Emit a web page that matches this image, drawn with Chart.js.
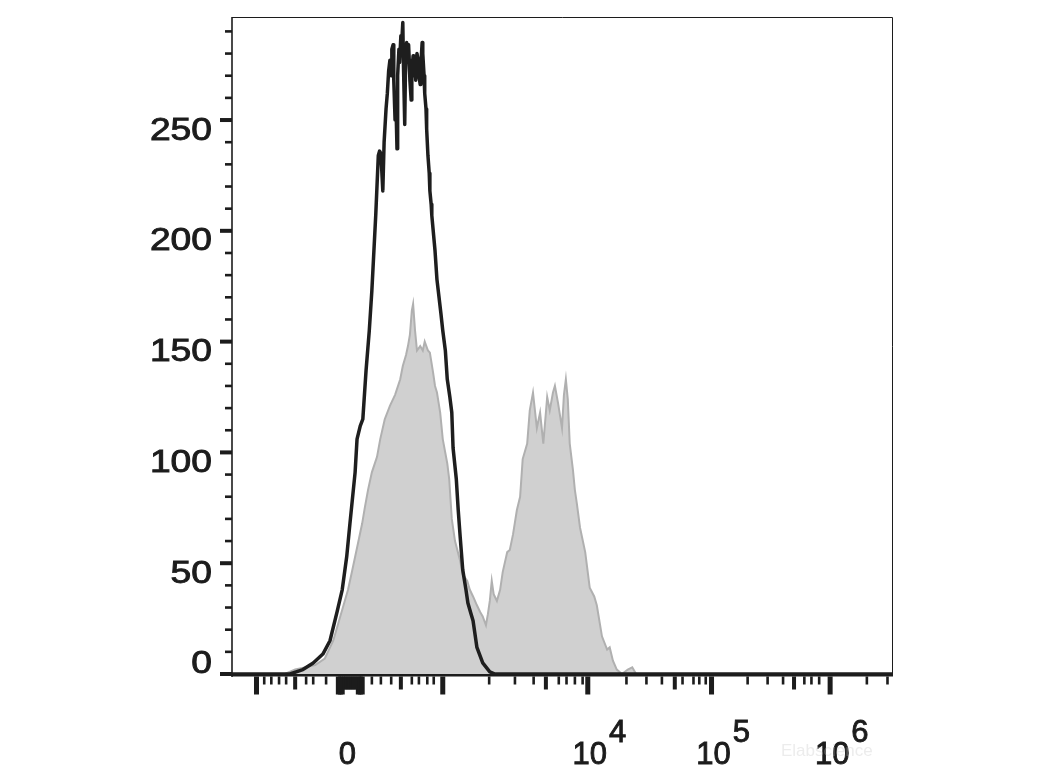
<!DOCTYPE html>
<html>
<head>
<meta charset="utf-8">
<script src="https://cdn.jsdelivr.net/npm/chart.js"></script>
<style>
  html, body { margin: 0; padding: 0; background: #fff; }
  canvas { display: block; }
</style>
</head>
<body>
<canvas id="histo" width="1040" height="780"></canvas>
<script>
// x = display channel on the biexponential axis (0..1024), y = event count
const blackChannels = [0, 90, 110, 126, 141, 152, 163, 171, 178, 183, 191, 194, 199, 203, 208, 213, 217, 223,
  227, 229, 231, 234, 236, 239, 241, 243, 245, 247, 248, 250, 251, 253, 254, 256, 257, 259, 260, 262, 263, 265,
  266, 268, 269, 271, 272, 274, 275, 276, 278, 279, 281, 282, 284, 285, 287, 289, 290, 292, 293, 295,
  296, 298, 299, 301, 302, 304, 306, 307, 309, 310, 315, 318, 322, 324, 327, 331, 334, 338, 341, 343,
  348, 351, 354, 358, 363, 366, 370, 374, 380, 389, 400, 408, 1024];
const blackCounts = [0, 0, 2, 5, 9, 15, 28, 38, 53, 68, 91, 106, 112, 115, 137, 155, 173, 207,
  234, 236, 235, 218, 240, 255, 262, 272, 277, 270, 282, 284, 268, 250, 262, 237, 270, 282, 276, 288, 283, 294,
  275, 248, 270, 285, 280, 284, 277, 268, 259, 272, 279, 270, 276, 268, 280, 277, 270, 266, 275, 285,
  280, 270, 262, 255, 246, 234, 226, 218, 212, 207, 191, 178, 168, 163, 155, 146, 133, 125, 118, 102,
  88, 74, 62, 47, 38, 32, 28, 24, 12, 5, 1, 0, 0];

const grayChannels = [0, 82, 98, 113, 129, 144, 157, 164, 172, 180, 186, 194, 202, 206, 211, 217, 225, 230, 237, 245,
  253, 261, 265, 270, 273, 276, 279, 281, 284, 287, 292, 296, 299, 304, 307, 312, 315, 318, 323, 327,
  334, 337, 341, 346, 354, 358, 365, 369, 374, 380, 385, 389, 394, 397, 400, 403, 406, 411, 416, 420,
  427, 431, 436, 442, 447, 451, 458, 462, 467, 473, 478, 483, 489, 493, 498, 501, 506, 512, 515, 518,
  521, 524, 529, 532, 535, 540, 548, 555, 562, 566, 574, 582, 586, 591, 597, 605, 614, 621, 627, 1024];
const grayCounts = [0, 0, 2, 3, 4, 7, 15, 22, 30, 38, 46, 57, 68, 75, 83, 91, 98, 106, 115, 121,
  126, 133, 139, 144, 148, 153, 164, 167, 155, 146, 148, 146, 150, 146, 145, 136, 130, 127, 118, 106,
  95, 88, 70, 60, 51, 45, 42, 38, 35, 31, 28, 26, 22, 27, 33, 42, 36, 33, 38, 46,
  55, 56, 63, 74, 80, 97, 104, 119, 127, 111, 118, 104, 125, 119, 127, 130, 122, 111, 126, 133,
  124, 104, 92, 83, 77, 66, 55, 39, 35, 31, 17, 11, 12, 6, 2, 0, 2, 3, 0, 0];

// y axis ticks
const yLabelTicks = [0, 50, 100, 150, 200, 250];
const yMinorTicks = [10, 20, 30, 40, 60, 70, 80, 90, 110, 120, 130, 140, 160, 170, 180, 190,
  210, 220, 230, 240, 260, 270, 280, 290];

// x axis ticks (in channels)
const xMajorTicks = [38, 165, 168, 171, 196, 199, 202, 327, 552, 744, 928];
const xMidTicks = [98, 174, 177, 180, 183, 186, 189, 192, 262, 487, 687, 872];
const xMinorTicks = [50, 61, 73, 84, 115, 126, 146, 217, 231, 247, 279, 290, 303, 313,
  399, 439, 468, 507, 519, 532, 544, 612, 643, 667, 699, 716, 725, 735,
  800, 831, 855, 888, 899, 911, 985, 1017];
const xLabelChannels = [179, 552, 744, 928];
const xLabelBase = ['0', '10', '10', '10'];
const xLabelExp = ['', '4', '5', '6'];

function heavyText(ctx, s, x, y) {
  ctx.fillText(s, x, y);
  ctx.strokeText(s, x, y);
}

const axisPlugin = {
  id: 'flowAxes',
  afterDraw(chart) {
    const ctx = chart.ctx;
    const xs = chart.scales.x, ys = chart.scales.y;
    const a = chart.chartArea;
    ctx.save();
    ctx.fillStyle = '#1c1c1c';
    ctx.strokeStyle = '#1c1c1c';

    // frame
    ctx.lineWidth = 1;
    ctx.beginPath();
    ctx.moveTo(a.left, a.top + 0.5);
    ctx.lineTo(a.right + 0.5, a.top + 0.5);
    ctx.lineTo(a.right + 0.5, a.bottom + 2);
    ctx.stroke();
    ctx.lineWidth = 1.6;
    ctx.beginPath();
    ctx.moveTo(a.left, a.top);
    ctx.lineTo(a.left, a.bottom + 3);
    ctx.stroke();
    ctx.fillRect(a.left, a.bottom, a.right - a.left + 1, 2.5);

    // y ticks
    yLabelTicks.forEach(v => {
      const y = ys.getPixelForValue(v);
      ctx.fillRect(a.left - 12, y - 2, 12, 4);
    });
    yMinorTicks.forEach(v => {
      const y = ys.getPixelForValue(v);
      ctx.fillRect(a.left - 7, y - 1.3, 7, 2.6);
    });

    // x ticks
    const base = a.bottom + 2.5;
    xMajorTicks.forEach(c => {
      const x = xs.getPixelForValue(c);
      ctx.fillRect(x - 2.5, base, 5, 18);
    });
    xMidTicks.forEach(c => {
      const x = xs.getPixelForValue(c);
      ctx.fillRect(x - 2, base, 4, 13);
    });
    xMinorTicks.forEach(c => {
      const x = xs.getPixelForValue(c);
      ctx.fillRect(x - 1.3, base, 2.6, 8);
    });

    // y labels
    ctx.lineWidth = 0.9;
    ctx.font = '31px "Liberation Sans", Arial, sans-serif';
    ctx.textAlign = 'right';
    ctx.textBaseline = 'middle';
    yLabelTicks.forEach(v => {
      const y = ys.getPixelForValue(v) + (v === 0 ? -10 : 11);
      ctx.save();
      ctx.translate(212, y);
      ctx.scale(1.2, 1);
      heavyText(ctx, String(v), 0, 0);
      ctx.restore();
    });

    // x labels with superscript exponents
    ctx.textBaseline = 'alphabetic';
    xLabelChannels.forEach((c, i) => {
      const x = xs.getPixelForValue(c) + (xLabelExp[i] ? 2 : 0);
      ctx.font = '31px "Liberation Sans", Arial, sans-serif';
      ctx.textAlign = 'center';
      heavyText(ctx, xLabelBase[i], x, 764);
      if (xLabelExp[i]) {
        const w = ctx.measureText(xLabelBase[i]).width;
        ctx.textAlign = 'left';
        heavyText(ctx, xLabelExp[i], x + w / 2 + 2, 742);
      }
    });

    // faint watermark
    ctx.font = '17px "Liberation Sans", Arial, sans-serif';
    ctx.fillStyle = 'rgba(200,200,200,0.35)';
    ctx.textAlign = 'left';
    ctx.fillText('Elabscience', 781, 756);
    ctx.restore();
  }
};

new Chart(document.getElementById('histo'), {
  type: 'line',
  data: {
    datasets: [
      {
        label: 'Stained',
        data: blackChannels.map((c, i) => ({ x: c, y: blackCounts[i] })),
        borderColor: '#1e1e1e',
        borderWidth: 3.5,
        borderJoinStyle: 'round',
        pointRadius: 0,
        tension: 0,
        fill: false,
        order: 0
      },
      {
        label: 'Control',
        data: grayChannels.map((c, i) => ({ x: c, y: grayCounts[i] })),
        borderColor: '#b0b0b0',
        backgroundColor: '#d0d0d0',
        borderWidth: 2,
        pointRadius: 0,
        tension: 0,
        fill: 'origin',
        order: 1
      }
    ]
  },
  options: {
    responsive: false,
    animation: false,
    events: [],
    layout: { padding: { left: 232, right: 148, top: 17, bottom: 106 } },
    scales: {
      x: { type: 'linear', min: 0, max: 1024, display: false },
      y: { type: 'linear', min: 0, max: 296.5, display: false }
    },
    plugins: { legend: { display: false }, tooltip: { enabled: false } }
  },
  plugins: [axisPlugin]
});
</script>
</body>
</html>
